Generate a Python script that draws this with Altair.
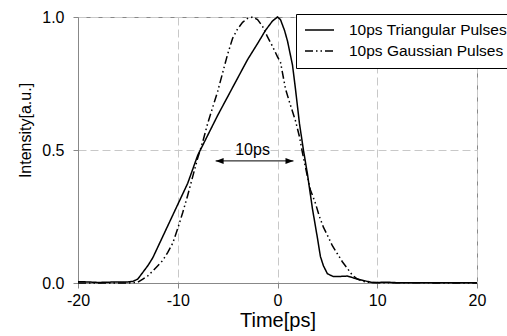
import altair as alt
import pandas as pd

# Triangular pulse (time in ps, intensity)
tri_t = [-20, -19, -18, -17, -16, -15, -14.5, -14.0, -13.5, -13.0, -12.5, -12.0, -11.5, -11.0,
         -10.0, -9.0, -8.0, -7.0, -6.0, -5.0, -4.0, -3.0, -2.0, -1.2, -0.5, 0.0, 0.3, 0.7,
         1.0, 1.5, 1.8, 2.2, 2.6, 3.0, 3.5, 4.0, 4.3, 4.6, 5.0, 5.6, 6.5, 7.0, 8.0, 9.0,
         9.5, 10, 11, 12, 20]
tri_y = [0.005, 0.004, 0.002, 0.003, 0.004, 0.004, 0.006, 0.015, 0.04, 0.065, 0.095, 0.135, 0.175, 0.215,
         0.295, 0.375, 0.48, 0.555, 0.63, 0.70, 0.77, 0.84, 0.90, 0.95, 0.985, 1.0, 0.99, 0.95,
         0.91, 0.82, 0.73, 0.60, 0.50, 0.41, 0.28, 0.17, 0.10, 0.065, 0.035, 0.024, 0.025, 0.026, 0.015, 0.006,
         0.002, 0.002, 0.003, 0.001, 0.001]

# Gaussian pulse
gau_t = [-20, -15, -14, -13.5, -13.0, -12.5, -12, -11.5, -11, -10.5, -10, -9.5, -9, -8.5, -8,
         -7.5, -7, -6.5, -6, -5.5, -5, -4.5, -4, -3.5, -3, -2.5, -2, -1.5, -1, -0.5, 0, 0.3,
         0.8, 1.2, 1.8, 2.2, 2.5, 3.0, 3.3, 3.8, 4.2, 4.6, 5.0, 5.5, 6.0, 6.5, 7.0, 7.5, 8.0,
         8.5, 9.0, 10, 20]
gau_y = [0, 0, 0.003, 0.015, 0.027, 0.045, 0.065, 0.085, 0.115, 0.15, 0.205, 0.265, 0.33, 0.40, 0.47,
         0.53, 0.60, 0.66, 0.72, 0.79, 0.86, 0.92, 0.955, 0.98, 0.995, 1.0, 0.99, 0.965, 0.925, 0.89, 0.85, 0.83,
         0.73, 0.68, 0.61, 0.55, 0.49, 0.40, 0.35, 0.30, 0.25, 0.21, 0.18, 0.14, 0.11, 0.08, 0.055, 0.03, 0.015,
         0.007, 0.003, 0.001, 0]

series_names = ["10ps Triangular Pulses", "10ps Gaussian Pulses"]

# annotation: double arrow marking the 10ps width
arrow_t = [-6.2, 1.6]
arrow_y = [0.459, 0.459]
arrow_head_t = [-5.8, 1.2]
arrow_label = ["10ps"]
arrow_label_t = [-2.5]
arrow_label_y = [0.483]

x_ticks = [-20, -10, 0, 10, 20]
y_ticks = [0.0, 0.5, 1.0]

FONT = "Liberation Sans"

df = pd.concat([
    pd.DataFrame({"t": tri_t, "y": tri_y, "series": series_names[0], "order": range(len(tri_t))}),
    pd.DataFrame({"t": gau_t, "y": gau_y, "series": series_names[1], "order": range(len(gau_t))}),
])

xscale = alt.Scale(domain=[-20, 20], nice=False)
yscale = alt.Scale(domain=[0, 1], nice=False)

xaxis = alt.Axis(values=x_ticks, title="Time[ps]", titleFontSize=20, titleFont=FONT,
                 titleFontWeight="normal", titleColor="black", labelFont=FONT, labelFontSize=16,
                 labelColor="black", labelExpr="toString(datum.value)", tickSize=5, labelPadding=4,
                 titlePadding=2, grid=True, gridDash=[8, 4], gridColor="#c8c8c8",
                 domainColor="#888888", tickColor="#888888", labelFlush=False)
yaxis = alt.Axis(values=y_ticks, title="Intensity[a.u.]", titleFontSize=16, titleFont=FONT,
                 titleFontWeight="normal", titleColor="black", labelFont=FONT, labelFontSize=16,
                 labelColor="black", format=".1f", tickSize=5, labelPadding=9, grid=True,
                 gridDash=[8, 4], gridColor="#c8c8c8", domainColor="#888888", tickColor="#888888",
                 titleAngle=270, titleX=-48, titleY=113, titleAlign="center", titleBaseline="alphabetic",
                 labelFlush=False)

lines = alt.Chart(df).mark_line(strokeWidth=1.5, color="black").encode(
    x=alt.X("t:Q", scale=xscale, axis=xaxis),
    y=alt.Y("y:Q", scale=yscale, axis=yaxis),
    order="order:Q",
    strokeDash=alt.StrokeDash(
        "series:N",
        scale=alt.Scale(domain=series_names, range=[[1, 0], [8, 3, 1.5, 3, 1.5, 3]]),
        legend=alt.Legend(title=None, orient="none", legendX=218, legendY=-3,
                          fillColor="white", strokeColor="black", padding=8,
                          symbolType="stroke", symbolSize=841, symbolStrokeWidth=1.5,
                          symbolStrokeColor="black", labelFont=FONT, labelFontSize=15.5,
                          labelColor="black", labelOffset=14, labelLimit=400, rowPadding=4,
                          clipHeight=16, cornerRadius=0),
    ),
)

arrow_df = pd.DataFrame({"t": [arrow_t[0]], "t2": [arrow_t[1]], "y": [arrow_y[0]]})
rule = alt.Chart(arrow_df).mark_rule(color="black", strokeWidth=1).encode(
    x="t:Q", x2="t2:Q", y="y:Q")

heads_df = pd.DataFrame({"t": arrow_head_t, "y": arrow_y, "dir": ["left", "right"]})
left_head = alt.Chart(heads_df[heads_df.dir == "left"]).mark_point(
    shape="M -1 0 L 1 -0.75 L 1 0.75 Z", size=64, filled=True, color="black", opacity=1
).encode(x="t:Q", y="y:Q")
right_head = alt.Chart(heads_df[heads_df.dir == "right"]).mark_point(
    shape="M 1 0 L -1 -0.75 L -1 0.75 Z", size=64, filled=True, color="black", opacity=1
).encode(x="t:Q", y="y:Q")

label_df = pd.DataFrame({"t": arrow_label_t, "y": arrow_label_y, "text": arrow_label})
label = alt.Chart(label_df).mark_text(font=FONT, fontSize=16, color="black",
                                      align="center", baseline="alphabetic").encode(
    x="t:Q", y="y:Q", text="text:N")

chart = alt.layer(lines, rule, left_head, right_head, label).properties(
    width=399, height=266,
    padding={"left": 78, "top": 17, "right": 30, "bottom": 53},
    autosize=alt.AutoSizeParams(type="none"),
    background="white",
).configure_view(stroke="#888888", strokeWidth=1)

chart.save("out.html", embed_options={"renderer": "svg", "actions": False})
